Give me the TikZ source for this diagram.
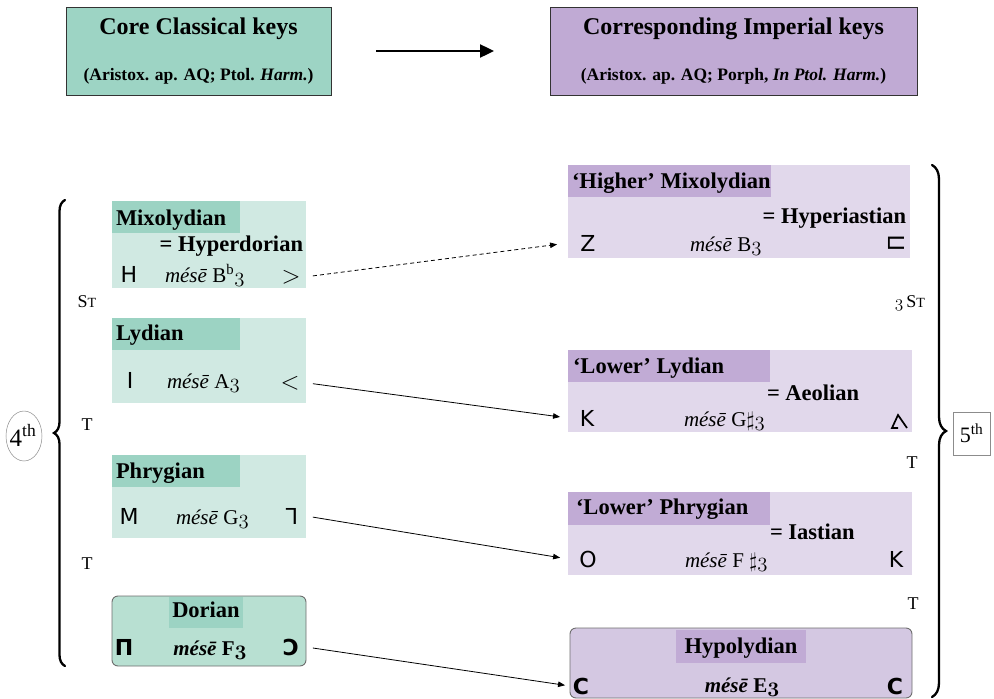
\documentclass[tikz,border=0pt]{standalone}
\usepackage{fontspec}
\setmainfont{Liberation Serif}
\newfontfamily\symf{DejaVu Sans}
\usepackage{graphicx}
\usetikzlibrary{arrows.meta,decorations.pathreplacing,shapes.geometric}

\definecolor{grHead}{RGB}{157,212,196}
\definecolor{grBox}{RGB}{208,233,226}
\definecolor{grTab}{RGB}{156,211,195}
\definecolor{grDor}{RGB}{184,224,210}
\definecolor{puHead}{RGB}{192,170,212}
\definecolor{puBox}{RGB}{225,216,235}
\definecolor{puTab}{RGB}{193,171,213}
\definecolor{puHyp}{RGB}{212,200,226}
\definecolor{edgeGray}{RGB}{110,110,110}

% old-style figure three
\newcommand\osthree{$\mathnormal{3}$}
\newcommand\osthreebf{{\boldmath$\mathnormal{3}$}}

\begin{document}
\begin{tikzpicture}[x=1pt,y=-1pt,
  every node/.style={inner sep=0pt,outer sep=0pt},
  headbox/.style={anchor=north west,draw=black!80,line width=0.9pt},
  lbox/.style={anchor=north west,fill=grBox},
  ltab/.style={anchor=north west,fill=grTab},
  rbox/.style={anchor=north west,fill=puBox},
  rtab/.style={anchor=north west,fill=puTab},
  headtxt/.style={anchor=base,font=\fontsize{24}{28}\selectfont\bfseries},
  subtxt/.style={anchor=base,font=\fontsize{17.5}{21}\selectfont\bfseries},
  mname/.style={anchor=base west,font=\fontsize{22.5}{26}\selectfont\bfseries},
  eqname/.style={font=\fontsize{22.5}{26}\selectfont\bfseries},
  mese/.style={anchor=base west,font=\fontsize{21}{24}\selectfont},
  sym/.style={anchor=base,font=\symf\fontsize{22}{24}\selectfont},
  angle/.style={anchor=base,font=\fontsize{27}{30}\selectfont},
  lbl/.style={anchor=base,font=\fontsize{18}{20}\selectfont},
  bigarrow/.style={line width=2.4pt,-{Triangle[length=14pt,width=13pt]}},
  conn/.style={line width=0.8pt,-{Triangle[length=7pt,width=5.5pt]}},
  bracestyle/.style={line width=2.3pt,decorate,line cap=round}
]
\useasboundingbox (0,0) rectangle (994,699);

% ---------- header boxes ----------
\node[headbox,fill=grHead,minimum width=265pt,minimum height=88pt] (hl) at (66,7) {};
\node[headtxt] (hlt) at (198.5,34) {Core Classical keys};
\node[subtxt] (hls) at (198.5,80) {(Aristox. ap. AQ; Ptol. \textit{Harm.})};

\node[headbox,fill=puHead,minimum width=367pt,minimum height=88pt] (hr) at (550,7) {};
\node[headtxt] (hrt) at (733.5,34) {Corresponding Imperial keys};
\node[subtxt] (hrs) at (733.5,80) {(Aristox. ap. AQ; Porph, \textit{In Ptol. Harm.})};

\draw[bigarrow,shorten <=45pt,shorten >=56pt] (hl) -- (hr);

% ---------- classical keys ----------
\node[lbox,minimum width=194pt,minimum height=87pt] (mix) at (112,201) {};
\node[ltab,minimum width=128pt,minimum height=32pt] (mixTab) at (112,201) {};
\node[mname] (mixN) at (116,225) {Mixolydian};
\node[eqname,anchor=base east] (mixEq) at (303,251) {= Hyperdorian};
\node[sym] (mixL) at (129,282) {H};
\node[mese] (mixM) at (165,282) {\textit{mésē} B\textsuperscript{b}\osthree};
\node[angle] (mixR) at (291,283) {$>$};

\node[lbox,minimum width=194pt,minimum height=85pt] (lyd) at (112,318) {};
\node[ltab,minimum width=128pt,minimum height=32pt] (lydTab) at (112,318) {};
\node[mname] (lydN) at (116,340) {Lydian};
\node[sym] (lydL) at (130,388) {I};
\node[mese] (lydM) at (167,388) {\textit{mésē} A\osthree};
\node[angle] (lydR) at (290,389) {$<$};

\node[lbox,minimum width=194pt,minimum height=83pt] (phr) at (112,455) {};
\node[ltab,minimum width=128pt,minimum height=32pt] (phrTab) at (112,455) {};
\node[mname] (phrN) at (116,478) {Phrygian};
\node[sym] (phrL) at (129,524) {M};
\node[mese] (phrM) at (176,524) {\textit{mésē} G\osthree};
\node[sym] (phrR) at (292,524) {\reflectbox{Γ}};

\node[anchor=north west,fill=grDor,draw=edgeGray,line width=0.9pt,rounded corners=6pt,
      minimum width=194pt,minimum height=70pt] (dor) at (112,596) {};
\node[ltab,minimum width=74pt,minimum height=31pt] (dorTab) at (169,597) {};
\node[mname,anchor=base] (dorN) at (206,617) {Dorian};
\node[sym] (dorL) at (124,655) {\bfseries Π};
\node[mese,anchor=base,font=\fontsize{21}{24}\selectfont\bfseries] (dorM) at (210,655) {\textit{mésē} F\osthreebf};
\node[sym] (dorR) at (291,655) {\bfseries Ɔ};

% ---------- imperial keys ----------
\node[rbox,minimum width=342pt,minimum height=93pt] (hmix) at (568,165) {};
\node[rtab,minimum width=203pt,minimum height=32pt] (hmixTab) at (568,165) {};
\node[mname] (hmixN) at (572,188) {‘Higher’ Mixolydian};
\node[eqname,anchor=base east] (hmixEq) at (906,223) {= Hyperiastian};
\node[sym] (hmixL) at (588,251) {Z};
\node[mese] (hmixM) at (690,251) {\textit{mésē} B\osthree};
\node[sym] (hmixR) at (896,251) {\rotatebox{90}{Π}};

\node[rbox,minimum width=344pt,minimum height=82pt] (llyd) at (568,350) {};
\node[rtab,minimum width=202pt,minimum height=32pt] (llydTab) at (568,350) {};
\node[mname] (llydN) at (573,373) {‘Lower’ Lydian};
\node[eqname,anchor=base west] (llydEq) at (767,400) {= Aeolian};
\node[sym] (llydL) at (587,426) {K};
\node[mese] (llydM) at (684,426) {\textit{mésē} G$\sharp$\osthree};
\coordinate (llydR) at (900,421);
\draw[line width=1.7pt,line join=miter] (llydR) ++(-2,7) -- ++(-6,0) -- ++(6,-13) -- ++(9,13);

\node[rbox,minimum width=344pt,minimum height=83pt] (lphr) at (568,492) {};
\node[rtab,minimum width=202pt,minimum height=33pt] (lphrTab) at (568,492) {};
\node[mname] (lphrN) at (576,514) {‘Lower’ Phrygian};
\node[eqname,anchor=base west] (lphrEq) at (770,539) {= Iastian};
\node[sym] (lphrL) at (588,567) {O};
\node[mese] (lphrM) at (685,567) {\textit{mésē} F $\sharp$\osthree};
\node[sym] (lphrR) at (896,567) {K};

\node[anchor=north west,fill=puHyp,draw=edgeGray,line width=0.9pt,rounded corners=6pt,
      minimum width=342pt,minimum height=70pt] (hyp) at (570,628) {};
\node[rtab,minimum width=130pt,minimum height=33pt] (hypTab) at (676,630) {};
\node[mname,anchor=base] (hypN) at (741,653) {Hypolydian};
\node[sym] (hypL) at (581,694) {\bfseries C};
\node[mese,anchor=base,font=\fontsize{21}{24}\selectfont\bfseries] (hypM) at (742,692) {\textit{mésē} E\osthreebf};
\node[sym] (hypR) at (895,694) {\bfseries C};

% ---------- connectors ----------
\draw[conn,dashed,dash pattern=on 4pt off 3pt,shorten <=7pt,shorten >=11pt]
  (mix.east |- mixR.center) -- (hmix.west |- hmixL.center);
\draw[conn,shorten <=7pt,shorten >=8pt] (lyd.east |- lydR.center) -- (llyd.west |- llydL.center);
\draw[conn,shorten <=7pt,shorten >=8pt] (phr.east |- phrR.center) -- (lphr.west |- lphrL.center);
\draw[conn,shorten <=7pt,shorten >=5pt] (dor.east |- dorR.center) -- (hyp.west |- hypL.center);

% ---------- braces and intervals ----------
\coordinate (lbTop) at (65,200);
\coordinate (lbBot) at (65,666);
\draw[bracestyle,decoration={brace,amplitude=11pt}] (lbBot) -- (lbTop);
\node[ellipse,draw=black!45,line width=0.5pt,minimum width=36pt,minimum height=50pt] (fourth) at (24,436) {};
\node[anchor=base,font=\fontsize{25}{28}\selectfont] (fourthT) at (23,446) {4\textsuperscript{th}};

\coordinate (rbTop) at (932,165);
\coordinate (rbBot) at (932,697);
\draw[bracestyle,decoration={brace,amplitude=14pt}] (rbTop) -- (rbBot);
\node[draw=black!45,line width=0.5pt,minimum width=37pt,minimum height=43pt] (fifth) at (971.5,433.5) {};
\node[anchor=base,font=\fontsize{22}{25}\selectfont] (fifthT) at (971.5,442) {5\textsuperscript{th}};

\node[lbl] (st1) at (87,307) {S{\fontsize{14}{16}\selectfont T}};
\node[lbl] (t1) at (87,430) {T};
\node[lbl] (t2) at (87,569) {T};

\node[lbl] (st2) at (910,307) {\osthree\,S{\fontsize{14}{16}\selectfont T}};
\node[lbl] (t3) at (912,468) {T};
\node[lbl] (t4) at (913,609) {T};
\end{tikzpicture}
\end{document}
